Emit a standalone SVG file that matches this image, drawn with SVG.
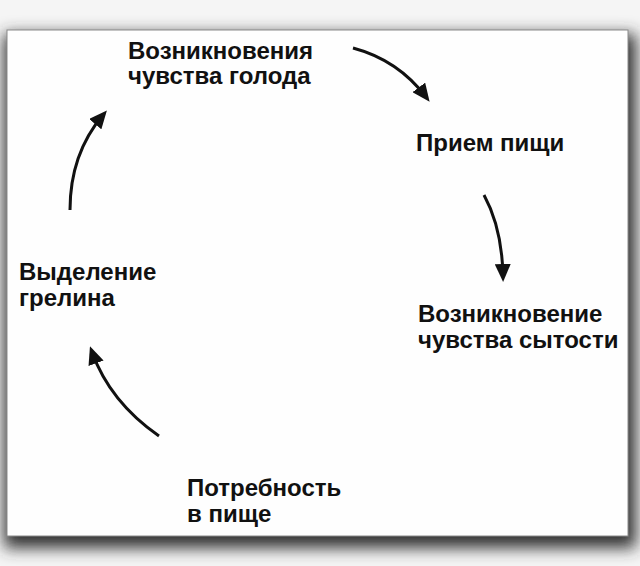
<svg xmlns="http://www.w3.org/2000/svg" width="640" height="566" viewBox="0 0 640 566">
<defs>
<filter id="sh" x="-10%" y="-10%" width="120%" height="125%">
<feGaussianBlur stdDeviation="8"/>
</filter>
<marker id="ah" markerUnits="userSpaceOnUse" markerWidth="18" markerHeight="16" viewBox="0 0 18 16" refX="12" refY="8" orient="auto">
<path d="M0,0 L18,8 L0,16 z" fill="#111"/>
</marker>
<style>
.t{font-family:"Liberation Sans",Arial,sans-serif;font-weight:bold;font-size:24px;fill:#111}
.c{fill:none;stroke:#111;stroke-width:3;marker-end:url(#ah)}
</style>
</defs>
<rect x="0" y="0" width="640" height="566" fill="#f5f5f5"/>
<rect x="4" y="34" width="632" height="514" fill="#333" filter="url(#sh)"/>
<rect x="7" y="30" width="621" height="506" fill="#fefefe" stroke="#8a8a8a" stroke-width="1"/>
<g id="n1"><text class="t" x="128" y="59">Возникновения</text><text class="t" x="128" y="84">чувства голода</text></g>
<g id="n2"><text class="t" x="416" y="151">Прием пищи</text></g>
<g id="n3"><text class="t" x="418" y="322">Возникновение</text><text class="t" x="418" y="348">чувства сытости</text></g>
<g id="n4"><text class="t" x="187" y="496">Потребность</text><text class="t" x="187" y="522">в пище</text></g>
<g id="n5"><text class="t" x="19" y="280">Выделение</text><text class="t" x="19" y="306">грелина</text></g>
<g id="connectors">
<path class="c" d="M353,48 Q398,60 426,97"/>
<path class="c" d="M484,195 Q502,228 503,276"/>
<path class="c" d="M70,210 Q70,154 103,115"/>
<path class="c" d="M159,436 Q110,402 92,352"/>
</g>
</svg>
